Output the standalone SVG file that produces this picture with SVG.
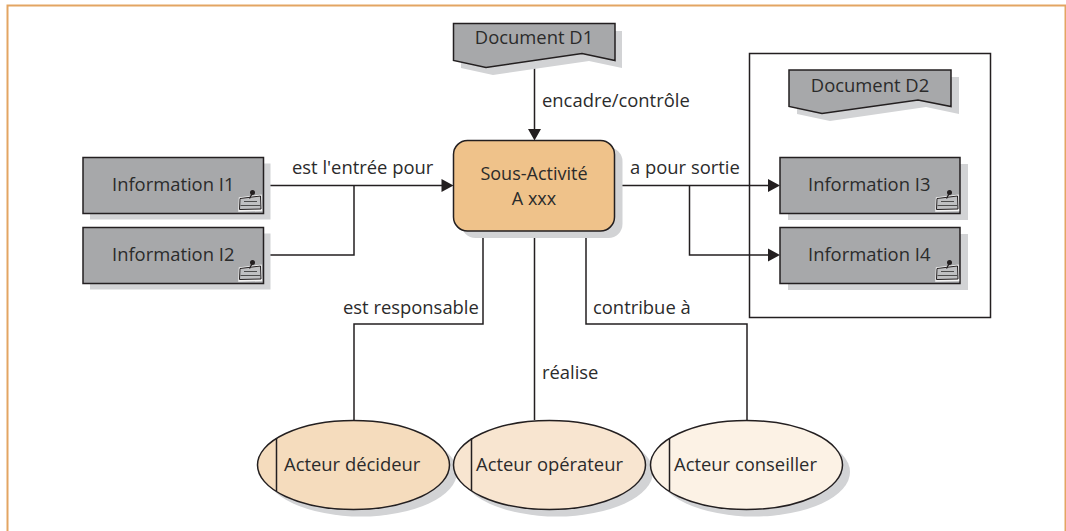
<svg xmlns="http://www.w3.org/2000/svg" width="1066" height="531" viewBox="0 0 1066 531">
<style>
text{font-family:"Open Sans","Noto Sans","Liberation Sans",sans-serif;font-size:18.400px;fill:#2b2b2b}
.m{text-anchor:middle}
.s{fill:#d2d3d5}
.g{fill:#a7a8aa;stroke:#231f20;stroke-width:1.5}
.c{fill:none;stroke:#231f20;stroke-width:1.5}
.a{fill:#231f20}
</style>
<defs>
<g id="pin">
<path d="M-11 1.500 L9.500 -1 L10 13 L-11.500 13.500 Z" fill="#d6d7d9" stroke="#f4f4f4" stroke-width="2.500"/>
<path d="M-11 1.500 L9.500 -1 L10 12 L-11.500 12.500 Z" fill="#bfc0c2" stroke="#231f20" stroke-width="1"/>
<path d="M-7 4.500H6M-10.500 8.500H9.500" stroke="#4d4d4d" stroke-width="1.200" fill="none"/>
<path d="M1.500 -4 L-1.500 1.500" stroke="#231f20" stroke-width="1.300"/>
<circle cx="1.500" cy="-4.500" r="2.500" fill="#231f20"/>
</g>
</defs>
<path d="M7.500 531V5.500H1065.500V531" fill="none" stroke="#e3a563" stroke-width="2"/>
<g id="d2-container"><rect x="749.500" y="53.500" width="241" height="264" fill="#fff" stroke="#231f20" stroke-width="1.500"/></g>
<g id="connectors">
<path class="c" d="M534.500 60V130M263.500 185.500H443M263.500 255H354V185.500M614 185.500H770M689.500 185.500V255H770M483 231V324H354V420M534.500 231V420M586 231V324H747V420"/>
<path class="a" d="M528 129H541L534.500 140.500ZM441.500 179V192L453.500 185.500ZM768 179V192L780 185.500ZM768 248.500V261.500L780 255Z"/>
</g>
<g id="document-d1">
<path class="s" d="M461 31H622V68L589 61L493 75L461 68Z"/>
<path class="g" d="M453.500 23.500H615V60.500L582 53.500L486 67.500L453.500 60.500Z"/>
<text class="m" x="534" y="44">Document D1</text>
</g>
<g id="sous-activite">
<rect class="s" x="461.500" y="147.500" width="161" height="90.500" rx="14"/>
<rect x="453.500" y="140.500" width="161" height="90.500" rx="14" fill="#efc28a" stroke="#231f20" stroke-width="1.500"/>
<text class="m" x="534" y="180" style="font-size:18px">Sous-Activité</text>
<text class="m" x="534" y="204.500" style="font-size:18px">A xxx</text>
</g>
<g id="information-i1">
<rect class="s" x="90" y="163.500" width="180.500" height="56"/>
<rect class="g" x="83" y="157.500" width="180.500" height="56"/>
<text x="112" y="190.500">Information I1</text>
<use href="#pin" x="251" y="197"/>
</g>
<g id="information-i2">
<rect class="s" x="90" y="233.500" width="180.500" height="56"/>
<rect class="g" x="83" y="227.500" width="180.500" height="56"/>
<text x="112" y="260.500">Information I2</text>
<use href="#pin" x="251" y="267"/>
</g>
<g id="document-d2">
<path class="s" d="M797 77H959V114L926 107L830 121L797 114Z"/>
<path class="g" d="M789 70H951V106.500L918 100L822 113.500L789 106.500Z"/>
<text class="m" x="870" y="91.500">Document D2</text>
</g>
<g id="information-i3">
<rect class="s" x="788" y="164" width="180" height="56"/>
<rect class="g" x="780" y="157.500" width="180" height="56"/>
<text x="808" y="190.500">Information I3</text>
<use href="#pin" x="948" y="197"/>
</g>
<g id="information-i4">
<rect class="s" x="788" y="234" width="180" height="56"/>
<rect class="g" x="780" y="227.500" width="180" height="56"/>
<text x="808" y="260.500">Information I4</text>
<use href="#pin" x="948" y="267"/>
</g>
<g id="acteur-decideur">
<ellipse class="s" cx="361" cy="472" rx="96" ry="44.500"/>
<ellipse cx="353.500" cy="465" rx="96" ry="44.500" fill="#f5dcbd" stroke="#231f20" stroke-width="1.500"/>
<path class="c" d="M276.500 438V491"/>
<text x="284" y="471">Acteur décideur</text>
</g>
<g id="acteur-operateur">
<ellipse class="s" cx="557" cy="472" rx="96" ry="44.500"/>
<ellipse cx="549.500" cy="465" rx="96" ry="44.500" fill="#f8e5d0" stroke="#231f20" stroke-width="1.500"/>
<path class="c" d="M471.500 438V491"/>
<text x="476" y="471">Acteur opérateur</text>
</g>
<g id="acteur-conseiller">
<ellipse class="s" cx="754" cy="472" rx="96" ry="44.500"/>
<ellipse cx="746.500" cy="465" rx="96" ry="44.500" fill="#fcf2e5" stroke="#231f20" stroke-width="1.500"/>
<path class="c" d="M669.500 438V491"/>
<text x="674" y="471">Acteur conseiller</text>
</g>
<g id="labels">
<text x="542" y="106.500">encadre/contrôle</text>
<text x="292" y="173.500">est l'entrée pour</text>
<text x="630" y="173.500">a pour sortie</text>
<text x="343" y="313.500">est responsable</text>
<text x="593" y="313.500">contribue à</text>
<text x="542" y="378.500">réalise</text>
</g>
</svg>
